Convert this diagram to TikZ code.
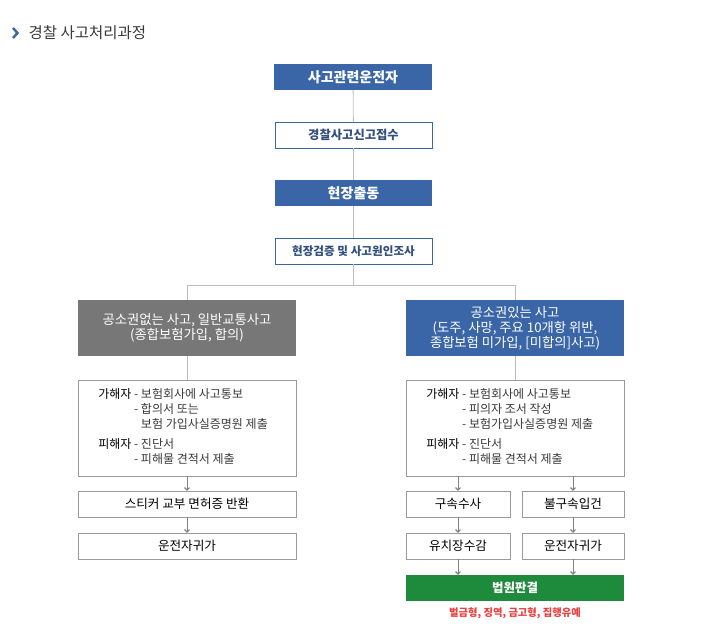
\documentclass[tikz,border=0pt]{standalone}
\usepackage{fontspec}
\setmainfont{Noto Sans CJK KR}
\usepackage{xcolor}
\usetikzlibrary{positioning, arrows.meta, calc}
\definecolor{accblue}{HTML}{3A66A7}
\definecolor{inkblue}{HTML}{33507D}
\definecolor{boxgray}{HTML}{777777}
\definecolor{linegray}{HTML}{BDBDBD}
\definecolor{framegray}{HTML}{9A9A9A}
\definecolor{courtgreen}{HTML}{1E8A3B}
\definecolor{sentred}{HTML}{E8403F}
\definecolor{headtext}{HTML}{3A3A3A}

\begin{document}
\begin{tikzpicture}[x=1pt, y=-1pt,
  fillbox/.style={fill=accblue, text=white, font=\bfseries\fontsize{14}{16}\selectfont,
    minimum width=158pt, minimum height=26pt, inner sep=0pt},
  linebox/.style={draw=accblue, line width=0.9pt, fill=white, text=inkblue,
    font=\bfseries\fontsize{12.3}{14}\selectfont, minimum width=157pt, minimum height=26pt, inner sep=0pt},
  branch/.style={text=white, font=\fontsize{13.3}{15}\selectfont, align=center,
    minimum width=218pt, minimum height=56pt, inner sep=0pt},
  detail/.style={draw=framegray, fill=white, minimum width=218pt, minimum height=96pt, inner sep=0pt},
  step box/.style={draw=framegray, fill=white, font=\fontsize{12.6}{14}\selectfont,
    minimum height=26pt, inner sep=0pt},
  link/.style={draw=linegray, line width=0.8pt},
  arr/.style={link, -{Straight Barb[length=2.5pt, width=5pt, line width=1.1pt]}, draw=gray}]
\useasboundingbox (0,0) rectangle (727,639);

% title
\draw[accblue, line width=2.4pt] (13,28)--(17.5,33)--(13,38);
\node[anchor=west, text=headtext, font=\fontsize{15.5}{17}\selectfont] (title) at (25,33) {경찰 사고처리과정};

% main flow
\node[fillbox] (drv) at (353,77) {사고관련운전자};
\node[linebox] (rpt) at (353.5,135) {경찰사고신고접수};
\node[fillbox, minimum width=157pt] (dsp) at (353.5,193) {현장출동};
\node[linebox, font=\bfseries\fontsize{11.6}{13}\selectfont] (inv) at (353.5,251) {현장검증 및 사고원인조사};

\draw[link] (drv)--(rpt);
\draw[link] (rpt)--(dsp);
\draw[link] (dsp)--(inv);

\coordinate (split) at (353.5,285);
\node[branch, fill=boxgray] (nopub) at (187,328) {공소권없는 사고, 일반교통사고\\(종합보험가입, 합의)};
\node[branch, fill=accblue] (pub) at (515,328) {공소권있는 사고\\(도주, 사망, 주요 10개항 위반,\\종합보험 미가입, [미합의]사고)};
\draw[link] (inv)--(split);
\draw[link] (split)-|(nopub.north);
\draw[link] (split)-|(pub.north);

% details
\node[detail] (dl) at (187,428) {};
\node[detail] (dr) at (515,428) {};
\draw[link] (nopub)--(dl);
\draw[link] (pub)--(dr);

\node[anchor=west, font=\fontsize{12}{15}\selectfont, text=black] (dltext) at ([xshift=17pt]dl.west)
 {\begin{tabular}{@{}l@{ }l@{}}
  가해자 & \textcolor{headtext}{- 보험회사에 사고통보}\\
   & \textcolor{headtext}{- 합의서 또는}\\
   & \textcolor{headtext}{\phantom{- }보험 가입사실증명원 제출}\\[5pt]
  피해자 & \textcolor{headtext}{- 진단서}\\
   & \textcolor{headtext}{- 피해물 견적서 제출}
 \end{tabular}};
\node[anchor=west, font=\fontsize{12}{15}\selectfont, text=black] (drtext) at ([xshift=17pt]dr.west)
 {\begin{tabular}{@{}l@{ }l@{}}
  가해자 & \textcolor{headtext}{- 보험회사에 사고통보}\\
   & \textcolor{headtext}{- 피의자 조서 작성}\\
   & \textcolor{headtext}{- 보험가입사실증명원 제출}\\[5pt]
  피해자 & \textcolor{headtext}{- 진단서}\\
   & \textcolor{headtext}{- 피해물 견적서 제출}
 \end{tabular}};

% left branch
\node[step box, minimum width=218pt] (stk) at (187,504) {스티커 교부 면허증 반환};
\node[step box, minimum width=218pt] (homel) at (187,546) {운전자귀가};
\draw[arr] (dl)--(stk);
\draw[arr] (stk)--(homel);

% right branch
\node[step box, minimum width=104pt] (arrest) at (458,504) {구속수사};
\node[step box, minimum width=102pt] (book) at (573,504) {불구속입건};
\node[step box, minimum width=104pt] (jail) at (458,546) {유치장수감};
\node[step box, minimum width=102pt] (homer) at (573,546) {운전자귀가};
\node[fill=courtgreen, text=white, font=\bfseries\fontsize{12.5}{14}\selectfont,
  minimum width=218pt, minimum height=26pt, inner sep=0pt] (court) at (515,588) {법원판결};
\node[text=sentred, font=\bfseries\fontsize{10.3}{12}\selectfont] (sent) at (515,613) {벌금형, 징역, 금고형, 집행유예};

\draw[arr] (arrest.north |- dr.south)--(arrest);
\draw[arr] (book.north |- dr.south)--(book);
\draw[arr] (arrest)--(jail);
\draw[arr] (book)--(homer);
\draw[arr] (jail)--(jail.south |- court.north);
\draw[arr] (homer)--(homer.south |- court.north);
\end{tikzpicture}
\end{document}
